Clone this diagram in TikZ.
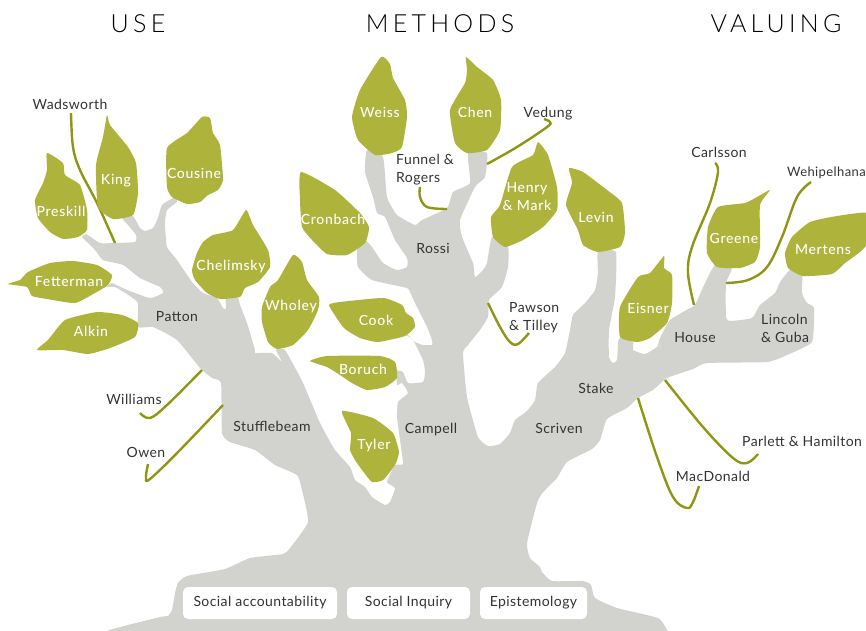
\documentclass[tikz,border=0pt]{standalone}
\usepackage{fontspec}
\setmainfont[LetterSpace=3]{Lato}
\newfontfamily\hdfont[LetterSpace=17]{Lato Light}
\newfontfamily\lffont[LetterSpace=5]{Lato Medium}
\definecolor{barkcol}{HTML}{D2D3CE}
\definecolor{leafcol}{HTML}{AEB33C}
\definecolor{vinecol}{HTML}{8F9614}
\definecolor{inkcol}{HTML}{333333}
\tikzset{
  bark/.style={fill=barkcol,draw=none},
  leafshape/.style={fill=leafcol,draw=none},
  vine/.style={draw=vinecol,line width=2.4pt,line cap=butt},
  head/.style={font=\hdfont\fontsize{25}{28}\selectfont,text=black,inner sep=0pt},
  lbl/.style={font=\fontsize{14}{18}\selectfont,text=inkcol,inner sep=0pt,text height=10pt,text depth=0pt},
  mlbl/.style={font=\fontsize{14}{18}\selectfont,text=inkcol,inner sep=0pt,align=left},
  llbl/.style={font=\lffont\fontsize{14}{18}\selectfont,text=white,inner sep=0pt,text height=10pt,text depth=0pt},
  mllbl/.style={font=\lffont\fontsize{14}{18}\selectfont,text=white,inner sep=0pt,align=center},
  rootbox/.style={fill=white,draw=none,rounded corners=5pt,inner sep=0pt,font=\fontsize{14}{18}\selectfont,text=inkcol}
}
\newcommand{\leafat}[1]{\fill[leafshape] plot[smooth cycle,tension=0.3] coordinates {#1};}
\newcommand{\vineat}[1]{\draw[vine] plot[smooth,tension=0.6] coordinates {#1};}
\begin{document}
\begin{tikzpicture}[x=1pt,y=-1pt]
\useasboundingbox (0,0) rectangle (866,630);
\clip (0,0) rectangle (866,630);
% tree
\fill[bark] plot[smooth cycle,tension=0.28] coordinates {
(110,630)(160,617)(168,616)(172,610)(175,593)(178,583)(187,576)(225,569)(250,558)(283,554)(290,548)(308,522)(302,490)(297,475)(275,465)(255,450)(230,442)(222,433)(221,383)(212,378)(200,368)(177,340)(153,327)(138,327)
(138,303)(127,294)(115,287)(107,287)(112,283)(127,290)(150,298)(163,293)(160,287)(140,278)(123,265)(103,260)(95,250)(87,242)(82,237)(86,234)(100,243)(113,243)(135,242)(136,235)(128,225)(122,218)(133,216)(140,228)(145,231)(153,228)(158,218)(162,205)(175,197)
(177,202)(167,210)(165,223)(167,247)(177,260)(192,282)(203,293)(217,298)(223,308)(226,309)(226,298)(238,298)(240,305)(247,323)(255,350)(255,353)(272,353)(282,362)(276,350)(285,350)(303,383)(320,423)(335,450)(350,467)(355,480)(365,487)(372,497)(385,505)(390,502)(395,488)(387,482)(395,465)(403,464)(400,440)(397,417)(398,402)(408,393)(402,383)(397,385)(397,371)(403,372)(408,383)(423,382)(425,372)(423,360)(413,340)(406,335)(408,335)(415,342)(423,345)(432,345)(432,340)(427,327)(415,303)(410,292)(407,288)(372,280)(358,267)(357,250)(365,240)
(372,247)(383,263)(397,270)(407,267)(407,258)(395,240)(385,217)(377,213)(373,197)(365,172)(367,150)(383,157)(387,197)(397,215)(415,225)(422,220)(447,208)(453,192)(470,183)(468,153)(487,153)(485,177)(475,187)(460,220)(462,237)(473,263)(475,277)(483,270)(487,263)(492,237)(508,247)(508,267)(502,287)(489,300)(488,317)(480,330)(468,345)(463,353)(467,397)(478,437)(488,446)(500,444)(510,433)(515,420)(527,411)(535,400)(538,383)(555,367)(565,353)(570,330)(573,315)(585,303)(595,290)(598,273)(598,252)(616,252)(615,297)(609,330)(609,357)(613,363)(617,360)(618,342)(620,338)(633,342)(633,350)(645,354)(657,347)(660,338)(670,320)(690,308)(695,305)(705,283)(715,265)(732,268)(726,283)(726,317)(730,321)(752,318)(760,305)(775,293)(780,282)(790,270)(802,273)(802,293)(807,303)(814,308)(812,342)(787,355)(767,362)(707,363)(693,369)(667,378)(653,390)(638,398)(627,408)(607,419)(600,440)(592,449)(567,462)(557,478)(547,488)(538,500)(527,543)(530,558)(540,567)(542,572)(552,581)(583,581)(591,585)(595,598)(617,608)(658,618)(667,630)(667,640)(110,640)
};
% vines
\vineat{(71,113)(73,147)(80,170)(97,203)(115,243)}
\vineat{(487,164)(517,147)(547,127)(550,122)(544,119)}
\vineat{(420,187)(420,197)(427,207)(447,209)}
\vineat{(488,303)(500,327)(510,342)(518,344)(529,333)}
\vineat{(715,163)(718,172)(710,203)(692,247)(688,273)(694,305)}
\vineat{(811,182)(797,197)(782,237)(767,267)(748,280)(726,283)}
\vineat{(202,370)(167,405)(150,418)(140,413)}
\vineat{(223,405)(180,450)(150,479)(146,477)(148,464)}
\vineat{(638,398)(657,457)(673,497)(687,508)(693,502)(699,486)}
\vineat{(665,380)(703,427)(733,458)(747,463)(758,454)}
% leaves
\leafat{(47,153)(63,163)(65,175)(80,185)(87,210)(87,230)(78,237)(63,239)(50,232)(38,218)(35,200)(43,183)(47,170)}
\leafat{(107,115)(110,125)(128,147)(136,163)(138,193)(133,215)(113,219)(98,207)(96,165)(103,137)}
\leafat{(202,117)(210,118)(213,133)(220,145)(223,180)(218,190)(208,195)(200,202)(187,204)(172,197)(167,187)(167,148)(187,133)}
\leafat{(246,210)(253,225)(268,250)(270,267)(258,282)(245,288)(240,297)(220,299)(207,293)(195,280)(192,270)(197,253)(203,242)(213,235)(233,230)}
\leafat{(8,284)(20,280)(28,272)(50,263)(73,261)(97,265)(112,275)(108,285)(95,293)(75,303)(47,299)(32,296)(27,287)}
\leafat{(37,350)(48,340)(65,320)(97,312)(122,315)(138,323)(135,337)(110,348)(88,354)(63,350)}
\leafat{(293,255)(302,262)(307,280)(319,297)(318,310)(308,330)(293,345)(277,349)(268,342)(262,322)(262,307)(270,287)(278,280)}
\leafat{(329,305)(340,302)(383,298)(402,305)(406,313)(413,318)(415,327)(405,336)(378,342)(360,338)(345,329)(338,320)}
\leafat{(310,361)(327,356)(380,356)(395,362)(397,378)(385,387)(367,390)(352,383)(340,375)(327,367)}
\leafat{(342,411)(373,418)(393,433)(399,452)(395,465)(383,480)(372,482)(362,470)(355,460)(350,450)(351,433)}
\leafat{(381,57)(390,64)(393,78)(405,100)(407,117)(402,147)(392,153)(375,155)(358,140)(352,117)(360,90)}
\leafat{(466,57)(477,67)(493,80)(501,100)(500,130)(487,150)(467,153)(455,143)(450,110)(465,83)(467,70)}
\leafat{(301,172)(335,190)(360,213)(369,227)(365,243)(347,255)(327,254)(312,240)(302,227)(300,200)}
\leafat{(538,142)(548,155)(557,187)(557,210)(543,227)(523,240)(505,247)(493,237)(491,217)(500,205)(512,167)(533,155)}
\leafat{(569,168)(583,172)(607,190)(622,203)(625,233)(620,247)(598,252)(583,245)(578,230)(566,205)(572,183)}
\leafat{(664,256)(664,268)(672,275)(672,303)(667,323)(650,338)(637,342)(620,337)(620,307)(638,277)(650,273)}
\leafat{(770,190)(760,205)(760,247)(755,262)(740,268)(717,267)(707,253)(708,227)(718,207)(745,203)(757,197)}
\leafat{(870,213)(837,216)(810,222)(792,237)(785,253)(788,268)(803,276)(832,274)(845,263)(860,252)(870,240)}
% headings
\node[head] (huse) at (138,24) {USE};
\node[head] (hmeth) at (440,24) {METHODS};
\node[head] (hval) at (776,24) {VALUING};
% leaf labels
\node[llbl] (preskill) at (61,211) {Preskill};
\node[llbl] (king) at (116,179) {King};
\node[llbl] (cousine) at (194,173) {Cousine};
\node[llbl] (chelimsky) at (231,265) {Chelimsky};
\node[llbl] (fetterman) at (69,281) {Fetterman};
\node[llbl] (alkin) at (91,331) {Alkin};
\node[llbl] (wholey) at (291,305) {Wholey};
\node[llbl] (cook) at (376,320) {Cook};
\node[llbl] (boruch) at (363,369) {Boruch};
\node[llbl] (tyler) at (374,444) {Tyler};
\node[llbl] (weiss) at (380,112) {Weiss};
\node[llbl] (chen) at (475,112) {Chen};
\node[llbl] (cronbach) at (333,219) {Cronbach};
\node[mllbl] (henry) at (527,197) {Henry\\\& Mark};
\node[llbl] (levin) at (596,217) {Levin};
\node[llbl] (eisner) at (648,308) {Eisner};
\node[llbl] (greene) at (734,238) {Greene};
\node[llbl] (mertens) at (823,249) {Mertens};
% other labels
\node[lbl] (wads) at (70,104) {Wadsworth};
\node[lbl] (patton) at (177,316) {Patton};
\node[lbl] (williams) at (134,399) {Williams};
\node[lbl] (owen) at (146,452) {Owen};
\node[lbl] (stuff) at (272,426) {Stufflebeam};
\node[lbl] (campell) at (431,428) {Campell};
\node[mlbl,anchor=west] (funnel) at (396,170) {Funnel \&\\Rogers};
\node[lbl] (rossi) at (433,248) {Rossi};
\node[lbl] (vedung) at (548,112) {Vedung};
\node[mlbl,anchor=west] (pawson) at (509,318) {Pawson\\\& Tilley};
\node[lbl] (stake) at (596,388) {Stake};
\node[lbl] (scriven) at (559,428) {Scriven};
\node[lbl] (house) at (695,337) {House};
\node[mlbl,anchor=west] (lincoln) at (761,328) {Lincoln\\\& Guba};
\node[lbl] (carlsson) at (719,152) {Carlsson};
\node[lbl,anchor=west,font=\fontsize{13}{18}\selectfont] (wehi) at (787,171) {Wehipelhana};
\node[lbl,anchor=west] (parlett) at (742,441) {Parlett \& Hamilton};
\node[lbl] (macd) at (713,476) {MacDonald};
% roots
\node[rootbox,minimum width=154pt,minimum height=32pt] (r1) at (260,603) {Social accountability};
\node[rootbox,minimum width=123pt,minimum height=32pt] (r2) at (408.5,603) {Social Inquiry};
\node[rootbox,minimum width=107pt,minimum height=32pt] (r3) at (533.5,603) {Epistemology};
\end{tikzpicture}
\end{document}
